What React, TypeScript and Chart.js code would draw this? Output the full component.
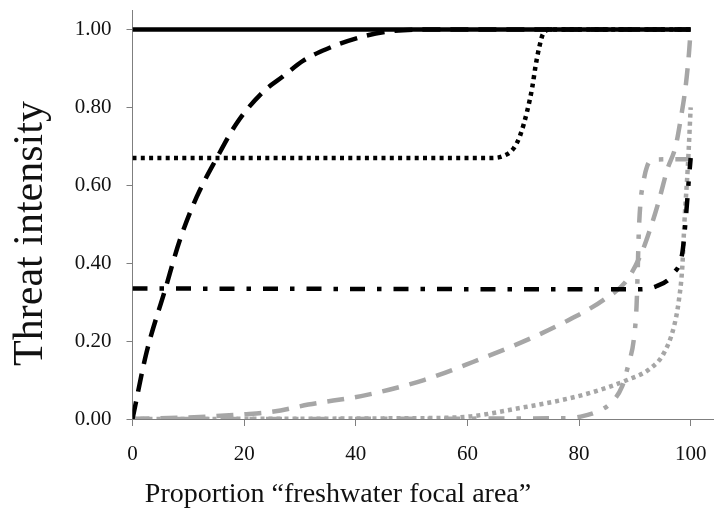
import React, { useEffect, useRef } from 'react';
import { Chart, registerables } from 'chart.js';

Chart.register(...registerables);

const xTickValues = [0, 20, 40, 60, 80, 100];
const yTickValues = [0, 0.2, 0.4, 0.6, 0.8, 1.0];
const xTitle = 'Proportion \u201cfreshwater focal area\u201d';
const yTitle = 'Threat intensity';

// Black solid
const solidX = [0, 100];
const solidY = [1, 1];
// Black dashed
const blackDashX = [0, 2.5, 5.8, 8.5, 11.5, 15.1, 18.7, 23.4, 27, 30.6, 34.8, 40.8, 46, 52, 100];
const blackDashY = [0, 0.17, 0.33, 0.46, 0.57, 0.67, 0.76, 0.84, 0.88, 0.92, 0.95, 0.98, 0.995, 1, 1];
// Black dotted
const blackDotX = [0, 64, 66.4, 68.3, 69.5, 70.7, 71.6, 72.2, 72.8, 73.6, 75, 100];
const blackDotY = [0.67, 0.67, 0.675, 0.695, 0.73, 0.79, 0.85, 0.905, 0.95, 0.99, 1, 1];
// Black dash-dot
const blackDashDotX = [0, 90, 93.7, 97, 98.5, 98.9, 99.3, 99.7, 100];
const blackDashDotY = [0.335, 0.333, 0.34, 0.375, 0.426, 0.478, 0.546, 0.62, 0.67];
// Grey dashed
const greyDashX = [0, 10, 20, 25.3, 31.5, 42, 52.2, 61.1, 70.7, 77.6, 84.4, 88.6, 91.3, 92.8, 94.3, 95.8, 97.3, 98.2, 99.1, 99.7, 100];
const greyDashY = [0, 0.004, 0.012, 0.019, 0.037, 0.062, 0.1, 0.147, 0.203, 0.25, 0.306, 0.357, 0.43, 0.49, 0.56, 0.64, 0.7, 0.769, 0.854, 0.94, 1.0];
// Grey dotted
const greyDotX = [0, 50, 60, 68.9, 77.3, 82.7, 88.6, 92.8, 95.2, 97, 97.9, 98.5, 98.9, 99.5, 100];
const greyDotY = [0, 0.002, 0.006, 0.027, 0.05, 0.07, 0.1, 0.13, 0.169, 0.237, 0.306, 0.39, 0.51, 0.65, 0.8];
// Grey dash-dot
const greyDashDotX = [0, 78, 80.3, 83.3, 85.6, 87.7, 88.9, 89.8, 90.3, 90.5, 90.7, 91, 91.6, 92.2, 93.1, 100];
const greyDashDotY = [0, 0.002, 0.006, 0.019, 0.04, 0.083, 0.143, 0.203, 0.289, 0.375, 0.477, 0.554, 0.614, 0.649, 0.666, 0.667];

const BLACK = '#000000';
const GREY = '#a6a6a6';
const AXIS = '#7f7f7f';
const SERIF = '"Liberation Serif", "Times New Roman", serif';

const pts = (xs: number[], ys: number[]) => xs.map((x, i) => ({ x, y: ys[i] }));

const titlesPlugin = {
  id: 'customTitles',
  afterDraw(chart: any) {
    const ctx = chart.ctx;
    ctx.save();
    ctx.fillStyle = '#111';
    ctx.textAlign = 'center';
    ctx.textBaseline = 'alphabetic';
    ctx.font = `42px ${SERIF}`;
    ctx.translate(42, 233.5);
    ctx.rotate(-Math.PI / 2);
    ctx.fillText(yTitle, 0, 0);
    ctx.restore();
    ctx.save();
    ctx.fillStyle = '#111';
    ctx.textAlign = 'center';
    ctx.textBaseline = 'alphabetic';
    ctx.font = `28px ${SERIF}`;
    ctx.fillText(xTitle, 338, 502);
    ctx.restore();
  },
};

const zeroPad = (s: any) => {
  s.paddingTop = 0;
  s.paddingBottom = 0;
  s.paddingLeft = 0;
  s.paddingRight = 0;
};

export default function App() {
  const ref = useRef<HTMLCanvasElement>(null);
  useEffect(() => {
    document.body.style.margin = '0';
    const line = (xs: number[], ys: number[], color: string, dash: number[], width = 4.5) => ({
      data: pts(xs, ys),
      borderColor: color,
      backgroundColor: color,
      borderWidth: width,
      borderDash: dash,
      borderCapStyle: 'butt' as const,
      pointRadius: 0,
      fill: false,
      cubicInterpolationMode: 'monotone' as const,
    });
    const chart = new Chart(ref.current!, {
      type: 'line',
      data: {
        datasets: [
          line(solidX, solidY, BLACK, []),
          line(blackDashX, blackDashY, BLACK, [18, 10]),
          line(blackDotX, blackDotY, BLACK, [4, 4.3]),
          line(blackDashDotX, blackDashDotY, BLACK, [15, 12, 4.5, 12]),
          line(greyDashX, greyDashY, GREY, [17, 11]),
          line(greyDotX, greyDotY, GREY, [4, 4]),
          line(greyDashDotX, greyDashDotY, GREY, [16, 12, 4.5, 12]),
        ],
      },
      options: {
        animation: false,
        responsive: true,
        maintainAspectRatio: false,
        layout: { padding: { top: 10, right: 2, left: 0, bottom: 0 } },
        plugins: { legend: { display: false }, tooltip: { enabled: false } },
        scales: {
          x: {
            type: 'linear',
            min: 0,
            max: 104,
            afterBuildTicks: (s: any) => { s.ticks = xTickValues.map((v) => ({ value: v })); },
            afterFit: (s: any) => { s.height = 99; zeroPad(s); },
            border: { display: true, color: AXIS, width: 1 },
            grid: { display: true, drawOnChartArea: false, drawTicks: true, tickLength: 7, color: AXIS },
            ticks: {
              color: '#111',
              font: { family: SERIF, size: 21 },
              padding: 16,
              maxRotation: 0,
              callback: (v: any) => String(v),
            },
          },
          y: {
            type: 'linear',
            min: 0,
            max: 1.05,
            afterBuildTicks: (s: any) => { s.ticks = yTickValues.map((v) => ({ value: v })); },
            afterFit: (s: any) => { s.width = 132.5; zeroPad(s); },
            border: { display: true, color: AXIS, width: 1 },
            grid: { display: true, drawOnChartArea: false, drawTicks: true, tickLength: 6, color: AXIS },
            ticks: {
              color: '#111',
              font: { family: SERIF, size: 21 },
              padding: 15,
              callback: (v: any) => Number(v).toFixed(2),
            },
          },
        },
      },
      plugins: [titlesPlugin],
    });
    return () => chart.destroy();
  }, []);
  return (
    <div style={{ position: 'absolute', left: 0, top: 0, width: 715, height: 518 }}>
      <canvas ref={ref} />
    </div>
  );
}
